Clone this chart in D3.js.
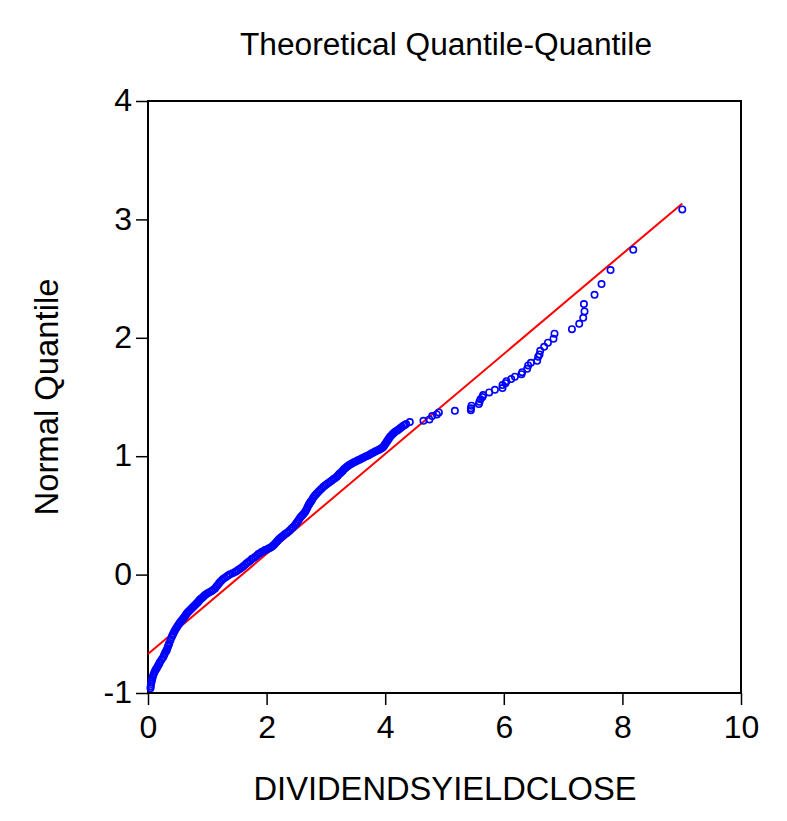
<!DOCTYPE html>
<html>
<head>
<meta charset="utf-8">
<script src="https://cdn.jsdelivr.net/npm/d3@7/dist/d3.min.js"></script>
<style>
  html, body { margin: 0; padding: 0; background: #fff; }
  svg { display: block; }
  text { font-family: "Liberation Sans", Arial, Helvetica, sans-serif; fill: #000; }
</style>
</head>
<body>
<svg id="chart" width="787" height="821"></svg>
<script>
// Sorted DIVIDENDSYIELDCLOSE values
const sampleX = [
  0.042, 0.046, 0.051, 0.059, 0.067, 0.078, 0.089, 0.103, 0.118, 0.132,
  0.147, 0.162, 0.177, 0.190, 0.202, 0.230, 0.258, 0.272, 0.287, 0.301,
  0.316, 0.326, 0.337, 0.348, 0.359, 0.380, 0.400, 0.413, 0.427, 0.441,
  0.456, 0.472, 0.489, 0.508, 0.528, 0.546, 0.565, 0.580, 0.596, 0.610,
  0.624, 0.638, 0.653, 0.672, 0.692, 0.714, 0.737, 0.756, 0.776, 0.799,
  0.822, 0.837, 0.852, 0.864, 0.877, 0.898, 0.920, 0.941, 0.962, 0.987,
  1.012, 1.043, 1.075, 1.102, 1.130, 1.151, 1.173, 1.194, 1.215, 1.240,
  1.265, 1.296, 1.328, 1.356, 1.384, 1.426, 1.468, 1.496, 1.524, 1.552,
  1.581, 1.609, 1.637, 1.664, 1.692, 1.721, 1.750, 1.777, 1.805, 1.833,
  1.861, 1.888, 1.915, 1.944, 1.974, 2.003, 2.033, 2.060, 2.087, 2.106,
  2.126, 2.148, 2.171, 2.190, 2.210, 2.233, 2.256, 2.283, 2.311, 2.339,
  2.367, 2.394, 2.421, 2.450, 2.480, 2.501, 2.522, 2.543, 2.565, 2.586,
  2.607, 2.628, 2.649, 2.663, 2.678, 2.693, 2.708, 2.720, 2.733, 2.747,
  2.762, 2.781, 2.801, 2.823, 2.846, 2.874, 2.902, 2.930, 2.958, 2.985,
  3.012, 3.041, 3.071, 3.100, 3.130, 3.157, 3.184, 3.203, 3.223, 3.245,
  3.268, 3.287, 3.307, 3.330, 3.353, 3.372, 3.391, 3.414, 3.437, 3.465,
  3.493, 3.520, 3.548, 3.575, 3.602, 3.631, 3.661, 3.690, 3.720, 3.747,
  3.774, 3.802, 3.830, 3.858, 3.886, 3.908, 3.931, 3.950, 3.970, 3.984,
  3.999, 4.013, 4.027, 4.040, 4.054, 4.068, 4.083, 4.104, 4.125, 4.146,
  4.167, 4.188, 4.210, 4.231, 4.252, 4.279, 4.307, 4.330, 4.353, 4.415,
  4.645, 4.746, 4.792, 4.871, 4.905, 5.175, 5.445, 5.445, 5.455, 5.580,
  5.590, 5.607, 5.640, 5.652, 5.753, 5.850, 5.978, 5.978, 6.028, 6.045,
  6.125, 6.187, 6.298, 6.310, 6.394, 6.411, 6.457, 6.563, 6.580, 6.602,
  6.614, 6.681, 6.744, 6.838, 6.855, 7.149, 7.272, 7.339, 7.361, 7.351,
  7.530, 7.648, 7.800, 8.183, 9.010
];
// Matching theoretical normal quantiles
const normalQuantile = [
  -0.959, -0.942, -0.925, -0.908, -0.891, -0.870, -0.849, -0.832, -0.815, -0.802,
  -0.790, -0.777, -0.764, -0.751, -0.739, -0.718, -0.697, -0.680, -0.663, -0.650,
  -0.638, -0.623, -0.608, -0.593, -0.579, -0.553, -0.528, -0.513, -0.498, -0.483,
  -0.469, -0.456, -0.443, -0.427, -0.412, -0.400, -0.389, -0.379, -0.370, -0.360,
  -0.351, -0.339, -0.328, -0.318, -0.308, -0.296, -0.285, -0.275, -0.266, -0.254,
  -0.243, -0.235, -0.228, -0.219, -0.211, -0.202, -0.194, -0.183, -0.173, -0.164,
  -0.156, -0.147, -0.139, -0.128, -0.118, -0.103, -0.089, -0.076, -0.063, -0.050,
  -0.038, -0.027, -0.017, -0.006, 0.004, 0.012, 0.021, 0.031, 0.042, 0.050,
  0.059, 0.071, 0.084, 0.095, 0.106, 0.118, 0.131, 0.139, 0.148, 0.160,
  0.173, 0.181, 0.190, 0.198, 0.207, 0.213, 0.220, 0.227, 0.235, 0.244,
  0.253, 0.265, 0.277, 0.288, 0.300, 0.309, 0.319, 0.330, 0.342, 0.351,
  0.361, 0.375, 0.389, 0.403, 0.418, 0.433, 0.448, 0.464, 0.481, 0.492,
  0.503, 0.515, 0.528, 0.542, 0.557, 0.572, 0.587, 0.597, 0.608, 0.618,
  0.629, 0.644, 0.659, 0.672, 0.686, 0.700, 0.714, 0.728, 0.742, 0.753,
  0.764, 0.774, 0.784, 0.795, 0.807, 0.816, 0.826, 0.837, 0.849, 0.858,
  0.868, 0.879, 0.891, 0.900, 0.910, 0.917, 0.925, 0.932, 0.939, 0.946,
  0.954, 0.960, 0.967, 0.973, 0.980, 0.987, 0.995, 1.002, 1.009, 1.016,
  1.024, 1.031, 1.039, 1.045, 1.052, 1.058, 1.064, 1.071, 1.079, 1.090,
  1.102, 1.112, 1.122, 1.133, 1.144, 1.154, 1.164, 1.175, 1.187, 1.196,
  1.206, 1.213, 1.220, 1.228, 1.237, 1.247, 1.258, 1.264, 1.271, 1.288,
  1.299, 1.311, 1.339, 1.353, 1.370, 1.383, 1.389, 1.404, 1.426, 1.440,
  1.459, 1.480, 1.499, 1.516, 1.539, 1.561, 1.575, 1.601, 1.617, 1.634,
  1.651, 1.671, 1.693, 1.710, 1.738, 1.767, 1.789, 1.806, 1.840, 1.860,
  1.890, 1.924, 1.958, 1.992, 2.034, 2.073, 2.118, 2.169, 2.223, 2.285,
  2.363, 2.454, 2.572, 2.743, 3.084
];

// Reference line endpoints (x, fitted normal quantile)
const refLineX = [0, 9.01];
const refLineY = [-0.67, 3.135];

// Axis ticks
const xTicks = [0, 2, 4, 6, 8, 10];
const yTicks = [-1, 0, 1, 2, 3, 4];

const titleText = "Theoretical Quantile-Quantile";
const xLabel = "DIVIDENDSYIELDCLOSE";
const yLabel = "Normal Quantile";

const svg = d3.select("#chart");
const plot = { left: 148, top: 101, right: 741, bottom: 693 };

const x = d3.scaleLinear().domain([0, 10]).range([plot.left, plot.right]);
const y = d3.scaleLinear().domain([-1, 4]).range([plot.bottom, plot.top]);

svg.append("rect").attr("width", 787).attr("height", 821).attr("fill", "#fff");

// Title
svg.append("text")
  .attr("x", 446).attr("y", 55)
  .attr("text-anchor", "middle")
  .attr("font-size", 31)
  .attr("textLength", 412)
  .attr("lengthAdjust", "spacingAndGlyphs")
  .text(titleText);

// Axes (plain hyphen for negative labels)
const fmt = d => String(d);
const yAxis = d3.axisLeft(y).tickValues(yTicks).tickSize(12).tickPadding(4).tickFormat(fmt);
const xAxis = d3.axisBottom(x).tickValues(xTicks).tickSize(12).tickPadding(10).tickFormat(fmt);

const gy = svg.append("g").attr("transform", `translate(${plot.left},0)`).call(yAxis);
const gx = svg.append("g").attr("transform", `translate(0,${plot.bottom})`).call(xAxis);
[gx, gy].forEach(g => {
  g.select(".domain").remove();
  g.selectAll(".tick line").attr("stroke", "#000").attr("stroke-width", 1.5);
  g.selectAll(".tick text").attr("font-size", 32).attr("fill", "#000")
    .style("font-family", '"Liberation Sans", Arial, sans-serif');
});
gy.selectAll(".tick text").attr("dy", "0.30em");

// Frame
svg.append("rect")
  .attr("x", plot.left).attr("y", plot.top)
  .attr("width", plot.right - plot.left).attr("height", plot.bottom - plot.top)
  .attr("fill", "none").attr("stroke", "#000").attr("stroke-width", 2);

// Fitted reference line
svg.append("line")
  .attr("x1", x(refLineX[0])).attr("y1", y(refLineY[0]))
  .attr("x2", x(refLineX[1])).attr("y2", y(refLineY[1]))
  .attr("stroke", "#ff0000").attr("stroke-width", 2);

// Sample points
svg.append("g").selectAll("circle")
  .data(d3.zip(sampleX, normalQuantile))
  .join("circle")
  .attr("cx", d => x(d[0]))
  .attr("cy", d => y(d[1]))
  .attr("r", 3.2)
  .attr("fill", "none")
  .attr("stroke", "#0000ff")
  .attr("stroke-width", 1.6);

// Axis titles
svg.append("text")
  .attr("x", 445).attr("y", 800)
  .attr("text-anchor", "middle")
  .attr("font-size", 33)
  .attr("textLength", 383)
  .attr("lengthAdjust", "spacingAndGlyphs")
  .text(xLabel);

svg.append("text")
  .attr("transform", "translate(58,397) rotate(-90)")
  .attr("text-anchor", "middle")
  .attr("font-size", 33)
  .attr("textLength", 237)
  .attr("lengthAdjust", "spacingAndGlyphs")
  .text(yLabel);
</script>
</body>
</html>
